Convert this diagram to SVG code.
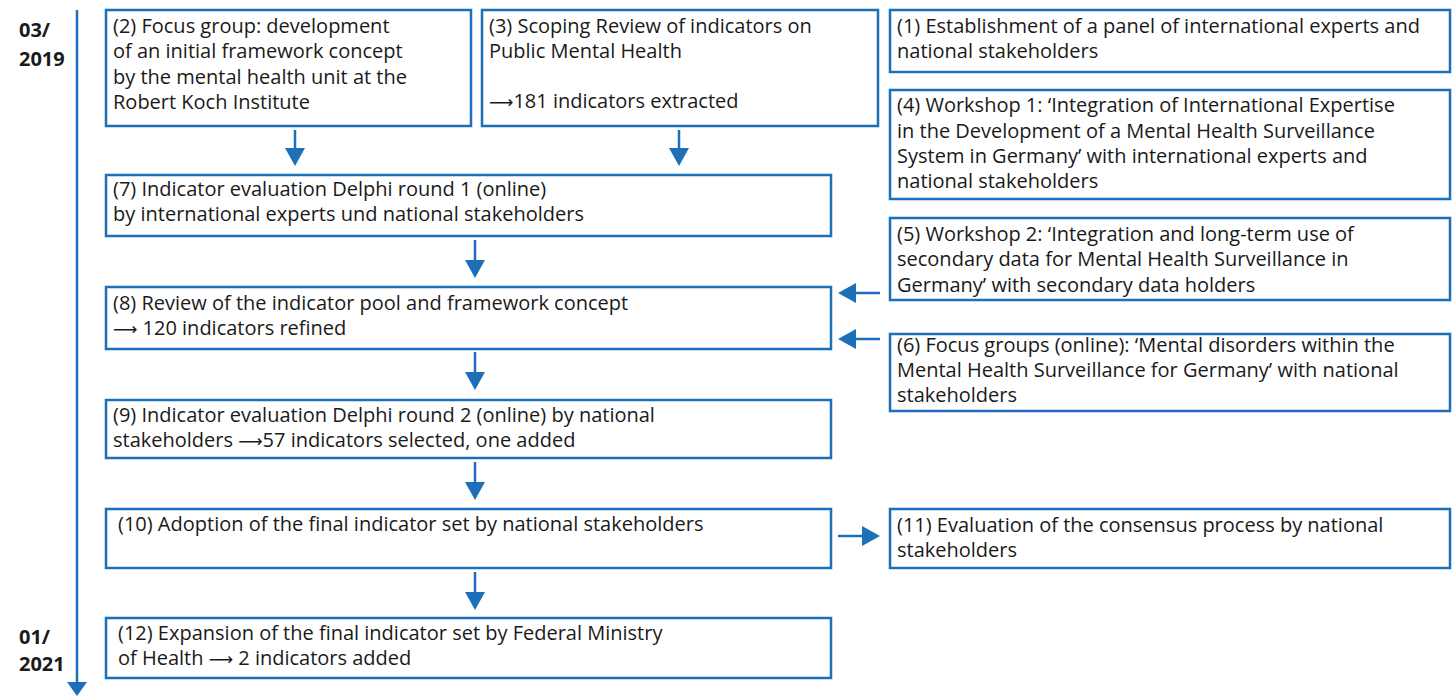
<svg xmlns="http://www.w3.org/2000/svg" width="1452" height="696" viewBox="0 0 1452 696">
<defs>
<style>
.box{fill:#fff;stroke:#1b70b9;stroke-width:2.5}
.t{font-family:"Open Sans","Noto Sans",sans-serif;font-size:20px;fill:#1a1a1a}
.a{font-family:"DejaVu Sans",sans-serif;font-size:17px}
.d{font-family:"Open Sans","Noto Sans",sans-serif;font-size:20px;font-weight:bold;fill:#1a1a1a}
.c{stroke:#1b70b9;stroke-width:2.5;fill:none}
.h{fill:#1b70b9}
</style>
</defs>
<rect width="1452" height="696" fill="#fff"/>
<g id="timeline">
<line class="c" x1="77" y1="10" x2="77" y2="684"/>
<path class="h" d="M67,682 L87,682 L77,696 z"/>
<text class="d" x="19" y="37">03/</text>
<text class="d" x="19" y="66">2019</text>
<text class="d" x="19" y="644">01/</text>
<text class="d" x="19" y="671">2021</text>
</g>
<g id="connectors">
<line class="c" x1="295" y1="130" x2="295" y2="150"/><path class="h" d="M285,148 L305,148 L295,166 z"/>
<line class="c" x1="679" y1="130" x2="679" y2="150"/><path class="h" d="M669,148 L689,148 L679,166 z"/>
<line class="c" x1="475" y1="240" x2="475" y2="262"/><path class="h" d="M465,260 L485,260 L475,278 z"/>
<line class="c" x1="475" y1="352" x2="475" y2="374"/><path class="h" d="M465,372 L485,372 L475,390 z"/>
<line class="c" x1="475" y1="462" x2="475" y2="484"/><path class="h" d="M465,482 L485,482 L475,500 z"/>
<line class="c" x1="475" y1="572" x2="475" y2="594"/><path class="h" d="M465,592 L485,592 L475,610 z"/>
<line class="c" x1="880" y1="293" x2="854" y2="293"/><path class="h" d="M856,283 L856,303 L838,293 z"/>
<line class="c" x1="880" y1="339" x2="854" y2="339"/><path class="h" d="M856,329 L856,349 L838,339 z"/>
<line class="c" x1="838" y1="536" x2="864" y2="536"/><path class="h" d="M862,526 L862,546 L880,536 z"/>
</g>
<g id="n2">
<rect class="box" x="106" y="10" width="365" height="116"/>
<text class="t" x="113" y="33">(2) Focus group: development</text>
<text class="t" x="113" y="58">of an initial framework concept</text>
<text class="t" x="113" y="84">by the mental health unit at the</text>
<text class="t" x="113" y="109">Robert Koch Institute</text>
</g>
<g id="n3">
<rect class="box" x="482" y="10" width="396" height="116"/>
<text class="t" x="489" y="33">(3) Scoping Review of indicators on</text>
<text class="t" x="489" y="58">Public Mental Health</text>
<text class="t" x="489" y="108"><tspan class="a">⟶</tspan>181 indicators extracted</text>
</g>
<g id="n1">
<rect class="box" x="890" y="10" width="560" height="62"/>
<text class="t" x="897" y="33">(1) Establishment of a panel of international experts and</text>
<text class="t" x="897" y="58">national stakeholders</text>
</g>
<g id="n4">
<rect class="box" x="890" y="90" width="560" height="109"/>
<text class="t" x="897" y="112">(4) Workshop 1: ‘Integration of International Expertise</text>
<text class="t" x="897" y="138">in the Development of a Mental Health Surveillance</text>
<text class="t" x="897" y="163">System in Germany’ with international experts and</text>
<text class="t" x="897" y="188">national stakeholders</text>
</g>
<g id="n5">
<rect class="box" x="890" y="218" width="560" height="82"/>
<text class="t" x="897" y="241">(5) Workshop 2: ‘Integration and long-term use of</text>
<text class="t" x="897" y="266">secondary data for Mental Health Surveillance in</text>
<text class="t" x="897" y="292">Germany’ with secondary data holders</text>
</g>
<g id="n6">
<rect class="box" x="890" y="334" width="560" height="77"/>
<text class="t" x="897" y="352">(6) Focus groups (online): ‘Mental disorders within the</text>
<text class="t" x="897" y="377">Mental Health Surveillance for Germany’ with national</text>
<text class="t" x="897" y="402">stakeholders</text>
</g>
<g id="n7">
<rect class="box" x="106" y="175" width="725" height="61"/>
<text class="t" x="113" y="196">(7) Indicator evaluation Delphi round 1 (online)</text>
<text class="t" x="113" y="221">by international experts und national stakeholders</text>
</g>
<g id="n8">
<rect class="box" x="106" y="287" width="725" height="62"/>
<text class="t" x="113" y="310">(8) Review of the indicator pool and framework concept</text>
<text class="t" x="113" y="335"><tspan class="a">⟶</tspan> 120 indicators refined</text>
</g>
<g id="n9">
<rect class="box" x="106" y="400" width="725" height="58"/>
<text class="t" x="113" y="422">(9) Indicator evaluation Delphi round 2 (online) by national</text>
<text class="t" x="113" y="447">stakeholders <tspan class="a">⟶</tspan>57 indicators selected, one added</text>
</g>
<g id="n10">
<rect class="box" x="106" y="509" width="725" height="59"/>
<text class="t" x="118" y="531">(10) Adoption of the final indicator set by national stakeholders</text>
</g>
<g id="n11">
<rect class="box" x="890" y="509" width="560" height="59"/>
<text class="t" x="897" y="532">(11) Evaluation of the consensus process by national</text>
<text class="t" x="897" y="557">stakeholders</text>
</g>
<g id="n12">
<rect class="box" x="106" y="618" width="725" height="60"/>
<text class="t" x="118" y="640">(12) Expansion of the final indicator set by Federal Ministry</text>
<text class="t" x="118" y="665">of Health <tspan class="a">⟶</tspan> 2 indicators added</text>
</g>
</svg>
